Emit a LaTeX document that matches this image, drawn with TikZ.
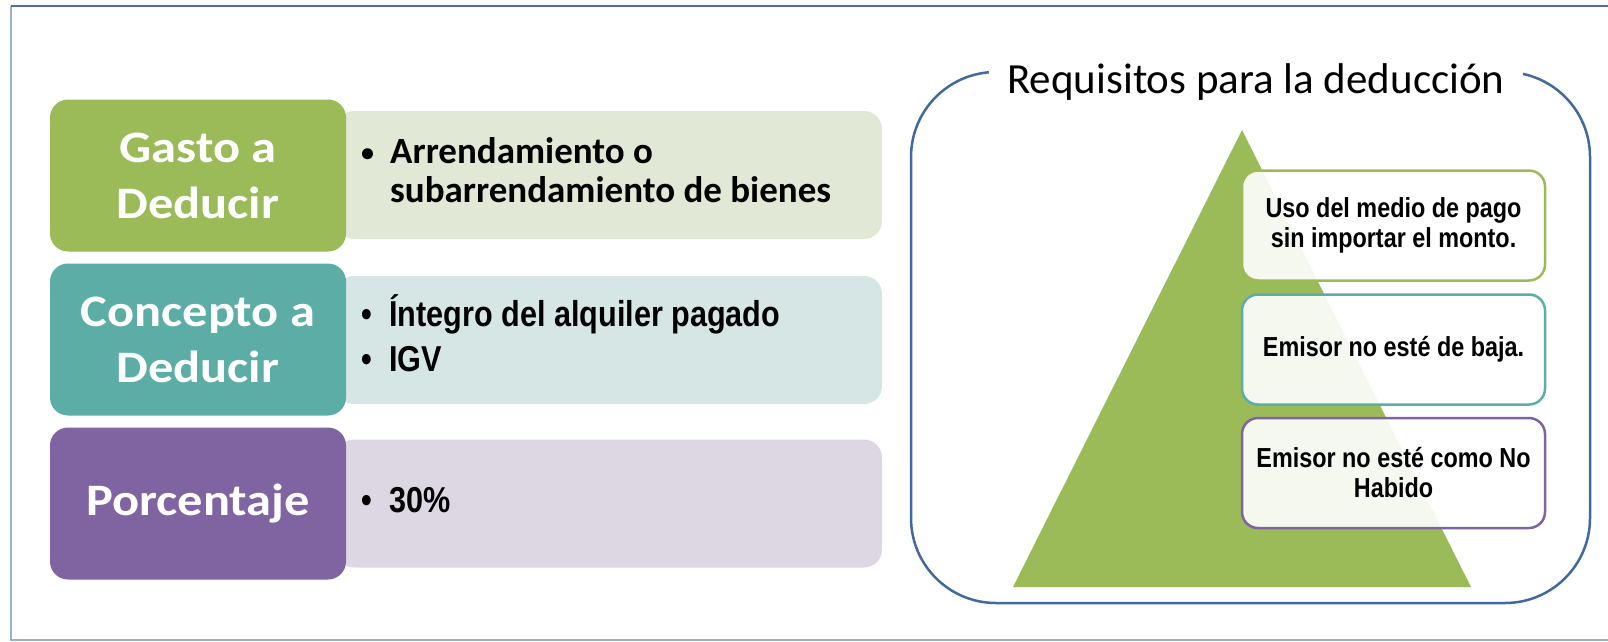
\documentclass[tikz,border=0pt]{standalone}
\usepackage{fontspec}
\setmainfont{Carlito}
\newfontfamily\anchofont[FakeStretch=1.12]{Carlito}
\newfontfamily\etroitB[FakeStretch=0.85]{Liberation Sans}
\definecolor{verde}{HTML}{9BBB59}
\definecolor{turquesa}{HTML}{5BADA5}
\definecolor{morado}{HTML}{8064A2}
\definecolor{verdeclaro}{HTML}{E1E8D5}
\definecolor{turquesaclaro}{HTML}{D5E6E4}
\definecolor{moradoclaro}{HTML}{DDD7E4}
\definecolor{marco}{HTML}{41689F}
\definecolor{cadreclair}{HTML}{9AB0CC}
\definecolor{cadrefonce}{HTML}{4F6FA0}
\newcommand{\puce}{{\fontsize{26}{26}\selectfont\raisebox{2pt}{\textbullet}}}
\begin{document}
\begin{tikzpicture}[x=1pt, y=-1pt,
    caja/.style={rounded corners=18pt, minimum width=296pt, minimum height=152pt,
      text=white, align=center, font=\anchofont\bfseries\fontsize{45}{56}\selectfont},
    panneau/.style={rounded corners=18pt, minimum width=546pt, minimum height=128pt},
    requis/.style={draw, line width=2.5pt, fill=white, fill opacity=0.9, text opacity=1,
      rounded corners=16pt, minimum width=303pt, minimum height=110pt, align=center,
      font=\etroitB\bfseries\fontsize{27.5}{30}\selectfont}]
    \useasboundingbox (0,0) rectangle (1608,641);

    % Cadre extérieur
    \draw[cadreclair, line width=1.5pt] (1620,640) -- (11,640) -- (11,6);
    \draw[cadrefonce, line width=1.5pt] (11,6) -- (1620,6);

    % Bandeaux clairs derrière les cases
    \node[panneau, fill=verdeclaro] (pA) at (609,175) {};
    \node[panneau, fill=turquesaclaro] (pB) at (609,340) {};
    \node[panneau, fill=moradoclaro] (pC) at (609,503.5) {};

    % Cases de couleur à gauche
    \node[caja, fill=verde] (gasto) at (198,175.5) {Gasto a\\Deducir};
    \node[caja, fill=turquesa] (concepto) at (198,339.5) {Concepto a\\Deducir};
    \node[caja, fill=morado] (porcentaje) at (198,503.5) {Porcentaje};

    % Textes des bandeaux
    \node[anchor=west, inner sep=0pt, font=\bfseries\fontsize{37}{39}\selectfont] (tA) at (361,175)
      {\begin{tabular}{@{}p{29pt}@{}l@{}}\puce & Arrendamiento o\\ & subarrendamiento de bienes\end{tabular}};
    \node[anchor=west, inner sep=0pt, font=\etroitB\bfseries\fontsize{36}{45}\selectfont] (tB) at (361,340)
      {\begin{tabular}{@{}p{28pt}@{}l@{}}\textbullet & Íntegro del alquiler pagado\\ \textbullet & IGV\end{tabular}};
    \node[anchor=west, inner sep=0pt, font=\etroitB\bfseries\fontsize{36}{45}\selectfont] (tC) at (361,503)
      {\begin{tabular}{@{}p{28pt}@{}l@{}}\textbullet & 30\%\end{tabular}};

    % Triangle et requisitos
    \fill[verde] (1242,130) -- (1013,587) -- (1471,587) -- cycle;
    \node[requis, draw=verde] (uso) at (1393.5,225.5) {Uso del medio de pago\\sin importar el monto.};
    \node[requis, draw=turquesa] (baja) at (1393.5,349.5) {Emisor no esté de baja.};
    \node[requis, draw=morado] (habido) at (1393.5,473) {Emisor no esté como No\\Habido};

    % Cadre arrondi avec son titre
    \draw[marco, line width=2.5pt, rounded corners=85pt] (911,72) rectangle (1590,603);
    \node[fill=white, inner xsep=18pt, font=\fontsize{43}{50}\selectfont] (titre) at (1256,82)
      {Requisitos para la deducción};
\end{tikzpicture}
\end{document}
